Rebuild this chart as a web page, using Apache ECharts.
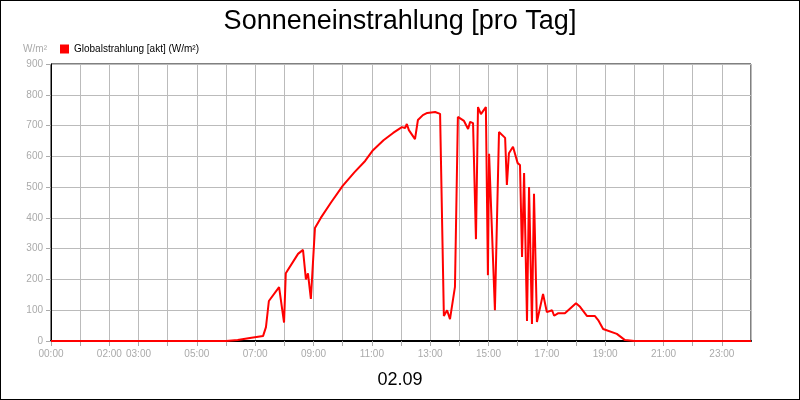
<!DOCTYPE html>
<html><head><meta charset="utf-8">
<script src="https://cdn.jsdelivr.net/npm/echarts@6/dist/echarts.min.js"></script>
<style>html,body{margin:0;padding:0;background:#fff}#c{width:798px;height:398px;border:1px solid #000}</style>
</head><body><div id="c"></div>
<script>
const hours = [0,6.0,6.4,6.82,7.27,7.37,7.47,7.82,7.99,8.05,8.47,8.5,8.64,8.74,8.81,8.91,8.97,9.05,9.25,9.6,10.0,10.4,10.77,11.04,11.4,11.73,12.03,12.14,12.2,12.27,12.3,12.48,12.58,12.75,12.9,13.17,13.34,13.47,13.58,13.68,13.85,13.95,14.16,14.3,14.37,14.47,14.57,14.64,14.74,14.91,14.98,15.02,15.22,15.36,15.57,15.63,15.7,15.84,16.0,16.08,16.15,16.22,16.32,16.39,16.49,16.56,16.66,16.7,16.87,17.0,17.18,17.25,17.38,17.62,18.0,18.14,18.38,18.65,18.76,18.93,19.4,19.68,20.0,24];
const values = [0,0,3,10,16,45,130,175,60,220,283,278,296,200,220,137,140,367,400,450,504,548,585,620,652,676,695,692,705,685,690,656,718,734,741,744,738,81,100,71,176,728,715,689,712,708,331,760,737,760,214,608,100,679,660,507,610,631,578,572,273,546,65,500,55,478,62,62,153,94,100,82,90,90,123,111,81,81,68,39,23,3,0,0];
const shownHours = [0,2,3,5,7,9,11,13,15,17,19,21,23];
const seriesName = 'Globalstrahlung [akt] (W/m²)';
const data = hours.map((h,i)=>[h,values[i]]);
const fmtH = h => (h<10?'0':'')+h+':00';
const chart = echarts.init(document.getElementById('c'));
chart.setOption({
  backgroundColor:'#fff',
  animation:false,
  title:[{text:'Sonneneinstrahlung [pro Tag]',left:'center',top:2,textStyle:{fontFamily:'Liberation Sans',fontSize:27,fontWeight:'normal',color:'#000'}},
         {text:'02.09',left:'center',top:365,textStyle:{fontFamily:'Liberation Sans',fontSize:18,fontWeight:'normal',color:'#000'}}],
  legend:{left:54,top:38,itemWidth:9,itemHeight:9,icon:'rect',itemGap:5,textStyle:{fontFamily:'Liberation Sans',fontSize:10,color:'#000'},data:[seriesName]},
  grid:{left:50,right:48,top:63,bottom:58,show:true,borderColor:'#000',borderWidth:1},
  xAxis:{type:'value',min:0,max:24,interval:1,
    axisLine:{show:true,lineStyle:{color:'#000',width:2}},axisTick:{show:true,lineStyle:{color:'#aaa'}},
    splitLine:{show:true,lineStyle:{color:'#bbb'}},
    axisLabel:{color:'#aaa',fontFamily:'Liberation Sans',fontSize:10,showMaxLabel:false,formatter:v=>shownHours.includes(v)?fmtH(v):''}},
  yAxis:{type:'value',min:0,max:900,interval:100,name:'W/m²',nameGap:10,
    nameTextStyle:{color:'#aaa',fontFamily:'Liberation Sans',fontSize:10,align:'right',padding:[0,4,0,0]},
    axisLine:{show:true,lineStyle:{color:'#000'}},axisTick:{show:true,lineStyle:{color:'#aaa'}},
    splitLine:{show:true,lineStyle:{color:'#bbb'}},
    axisLabel:{color:'#aaa',fontFamily:'Liberation Sans',fontSize:10}},
  series:[{name:seriesName,type:'line',data:data,showSymbol:false,color:'#ff0000',lineStyle:{color:'#ff0000',width:2}}]
});
</script></body></html>
